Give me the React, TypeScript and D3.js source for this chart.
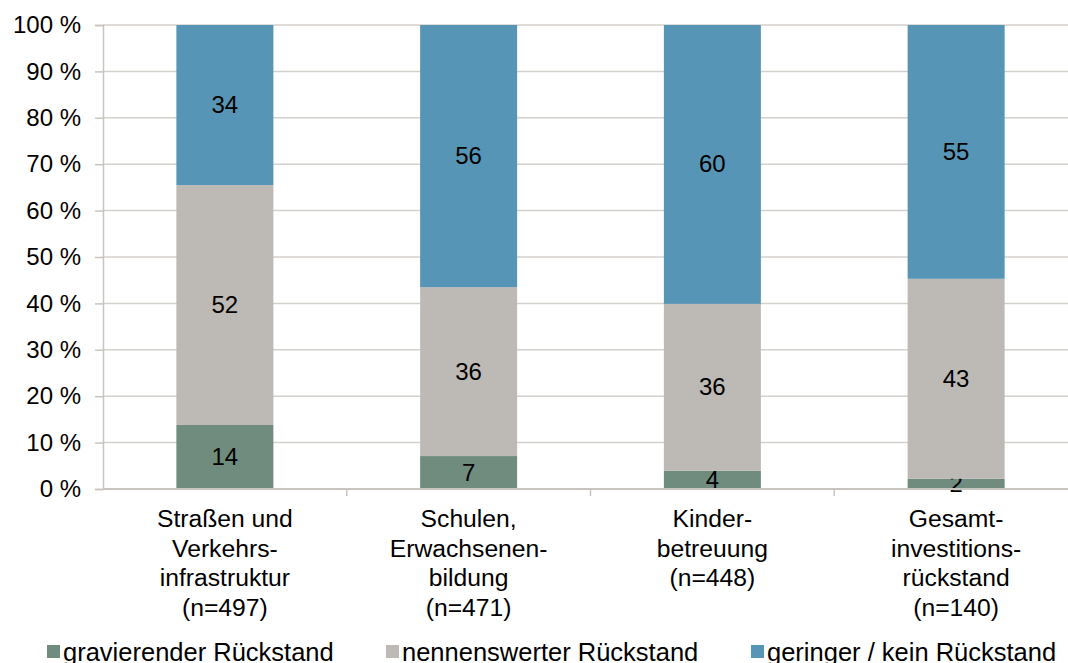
import React, { useEffect, useRef } from 'react';
import * as d3 from 'd3';

const categories = [
  ['Straßen und', 'Verkehrs-', 'infrastruktur', '(n=497)'],
  ['Schulen,', 'Erwachsenen-', 'bildung', '(n=471)'],
  ['Kinder-', 'betreuung', '(n=448)'],
  ['Gesamt-', 'investitions-', 'rückstand', '(n=140)'],
];
const seriesNames = ['gravierender Rückstand', 'nennenswerter Rückstand', 'geringer / kein Rückstand'];
const gravierend = [13.8, 7.1, 3.9, 2.2];
const nennenswert = [51.7, 36.4, 36.0, 43.1];
const gering = [34.5, 56.5, 60.1, 54.7];
const labelsG = ['14', '7', '4', '2'];
const labelsN = ['52', '36', '36', '43'];
const labelsK = ['34', '56', '60', '55'];
const colors = ['#6f8c7e', '#bdb9b5', '#5795b6'];
const yTicks = [0, 10, 20, 30, 40, 50, 60, 70, 80, 90, 100];

const App: React.FC = () => {
  const ref = useRef<SVGSVGElement>(null);

  useEffect(() => {
    if (!ref.current) return;
    const svg = d3.select(ref.current);
    svg.selectAll('*').remove();

    const W = 1068, H = 663;
    const left = 103, right = 1078, top = 25, bottom = 489;
    const font = 'Liberation Sans, Arial, sans-serif';
    const fs = 24;

    const idx = categories.map((_, i) => i);
    const x = d3.scaleBand<number>().domain(idx).range([left, right]).paddingInner(0).paddingOuter(0);
    const y = d3.scaleLinear().domain([0, 100]).range([bottom, top]);
    const barW = 97;

    // gridlines
    svg.append('g').selectAll('line').data(yTicks.filter(t => t > 0)).enter().append('line')
      .attr('x1', left).attr('x2', W).attr('y1', d => y(d)).attr('y2', d => y(d))
      .attr('stroke', '#d4d1cd').attr('stroke-width', 1.5);

    // y axis
    const yAxis = svg.append('g').attr('transform', `translate(${left},0)`)
      .call(d3.axisLeft(y).tickValues(yTicks).tickSize(8).tickFormat(d => `${d} %`));
    yAxis.select('.domain').attr('stroke', '#c8c5c1').attr('stroke-width', 1.5);
    yAxis.selectAll('.tick line').attr('stroke', '#c8c5c1').attr('stroke-width', 1.5);
    yAxis.selectAll('.tick text').attr('font-family', font).attr('font-size', fs)
      .attr('fill', '#000').attr('x', -22);

    // stacked bars
    const stackData = idx.map(i => ({ i, g: gravierend[i], n: nennenswert[i], k: gering[i] }));
    const stacked = d3.stack<any>().keys(['g', 'n', 'k'])(stackData);
    const labelSets = [labelsG, labelsN, labelsK];

    stacked.forEach((layer, si) => {
      const g = svg.append('g');
      g.selectAll('rect').data(layer).enter().append('rect')
        .attr('x', d => x(d.data.i)! + x.bandwidth() / 2 - barW / 2)
        .attr('width', barW)
        .attr('y', d => y(d[1]))
        .attr('height', d => y(d[0]) - y(d[1]))
        .attr('fill', colors[si]);
      g.selectAll('text').data(layer).enter().append('text')
        .attr('x', d => x(d.data.i)! + x.bandwidth() / 2)
        .attr('y', d => y((d[0] + d[1]) / 2) + 8)
        .attr('text-anchor', 'middle')
        .attr('font-family', font).attr('font-size', fs).attr('fill', '#000')
        .text((d, j) => labelSets[si][j]);
    });

    // x axis
    svg.append('line').attr('x1', left).attr('x2', W).attr('y1', bottom).attr('y2', bottom)
      .attr('stroke', '#c8c5c1').attr('stroke-width', 2);
    svg.append('g').selectAll('line').data(idx.slice(1)).enter().append('line')
      .attr('x1', d => x(d)!).attr('x2', d => x(d)!)
      .attr('y1', bottom).attr('y2', bottom + 7)
      .attr('stroke', '#c8c5c1').attr('stroke-width', 1.5);

    // category labels
    const cl = svg.append('g');
    idx.forEach(i => {
      const t = cl.append('text').attr('text-anchor', 'middle')
        .attr('font-family', font).attr('font-size', 24.7).attr('fill', '#000');
      categories[i].forEach((line, li) => {
        t.append('tspan').attr('x', x(i)! + x.bandwidth() / 2).attr('y', 527 + li * 29.5).text(line);
      });
    });

    // legend
    const legendX = [47, 386, 751];
    const lg = svg.append('g');
    seriesNames.forEach((name, i) => {
      lg.append('rect').attr('x', legendX[i]).attr('y', 645).attr('width', 13).attr('height', 13)
        .attr('fill', colors[i]);
      lg.append('text').attr('x', legendX[i] + 16).attr('y', 661)
        .attr('font-family', font).attr('font-size', 25.5).attr('fill', '#000').text(name);
    });

    svg.attr('width', W).attr('height', H);
  }, []);

  return (
    <svg ref={ref} width={1068} height={663}
      style={{ position: 'absolute', left: 0, top: 0, background: '#fff' }} />
  );
};

export default App;
